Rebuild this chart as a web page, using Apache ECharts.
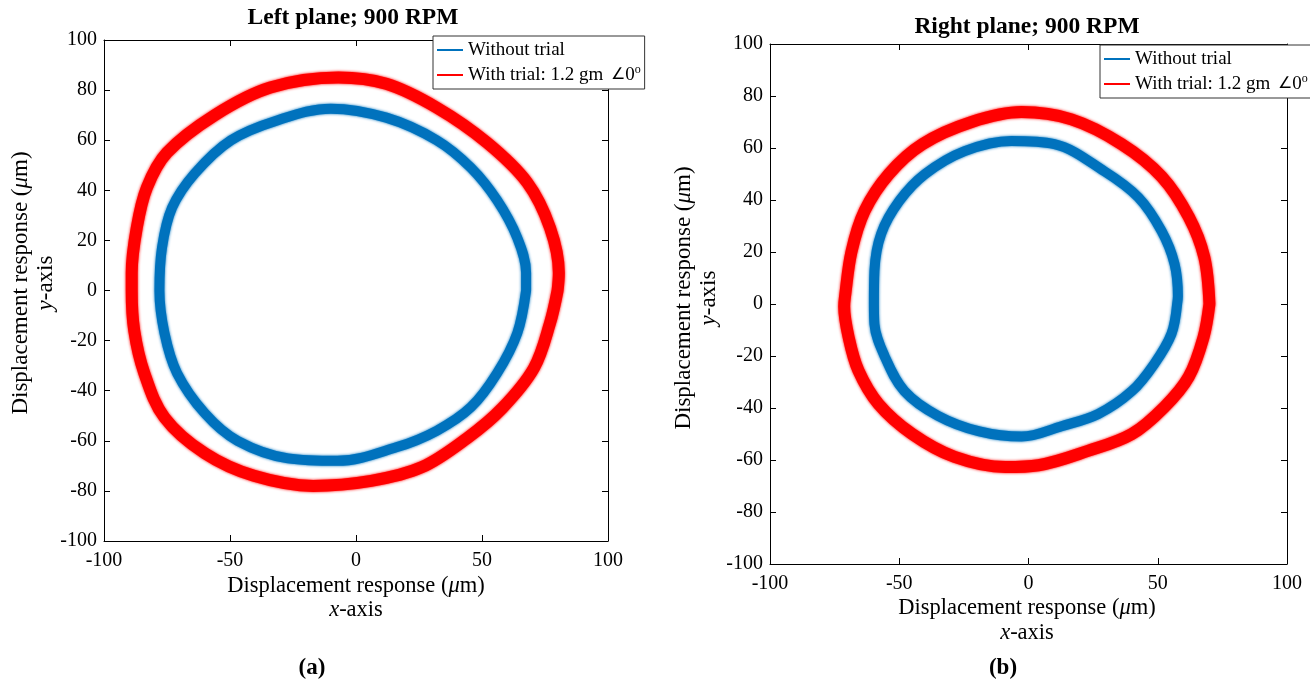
<!DOCTYPE html>
<html><head><meta charset="utf-8">
<script src="https://cdn.jsdelivr.net/npm/echarts@6/dist/echarts.min.js"></script>
<style>html,body{margin:0;padding:0;background:#fff}#c{width:1310px;height:683px}</style>
</head><body><div id="c"></div>
<script>
// ---- data (micrometres) ----
const xTickStep = 50;
const yTickStep = 20;
const axisMin = -100;
const axisMax = 100;
const seriesNames = ['Without trial', 'With trial'];
const plotTitles = ['Left plane; 900 RPM', 'Right plane; 900 RPM'];
const panelLabels = ['(a)', '(b)'];

const leftWithout = [[67.5,0],[67.5,7],[64,21],[56,36],[45.6,49],[32,60],[12,69],[-10,72.6],[-31,68],[-49.6,60],[-64,46.7],[-73,33],[-77,17],[-78,0],[-76,-17],[-71,-33],[-60,-49],[-47,-60],[-27,-67],[-7.5,-68],[16,-62.6],[32,-56],[45.6,-46.6],[56,-33],[64,-17],[67.5,0]];
const leftWith = [[80,0],[80.5,7],[77,25],[68,43],[52,59],[32,73],[12,82.5],[-7,85],[-34,81],[-56,70],[-75,55],[-83,41],[-87,25],[-89,7],[-89,0],[-88,-16],[-84,-33],[-76,-50.7],[-60,-65],[-40.5,-74],[-17,-78],[6,-76],[26,-70.6],[44,-59],[58,-47],[70.6,-31],[77,-13],[80,0]];
const rightWithout = [[57.5,0],[57.8,3],[56.5,15.4],[51.5,28],[42.5,41],[29.4,51],[10,61.5],[-6.6,62.7],[-24.7,58.8],[-40,50],[-50,39.6],[-57,27],[-59.6,12.7],[-59.8,0],[-59.6,-7.7],[-55.7,-20],[-48,-33.5],[-35,-43],[-19,-49],[-2.7,-51],[12.8,-47],[27,-42.3],[40,-33.5],[48.7,-23],[55.3,-11.5],[57.5,0]];
const rightWith = [[70,0],[68,18],[62,33.5],[51.5,49],[36,61.5],[16.6,71],[-2.7,73.8],[-22,70],[-41,61.5],[-54,50],[-63.4,35.8],[-68.5,20],[-71,2.7],[-71.3,-1],[-69.6,-12.7],[-65.8,-25.6],[-58,-38.5],[-45,-50],[-28.6,-58.8],[-9,-62.7],[3.9,-62],[23,-56.5],[40,-50],[52.6,-39.6],[62,-28],[67.7,-12.8],[70,0]];

// ---- chart ----
const FONT = '"Liberation Serif","Times New Roman",serif';
const BLUE = '#0072BD', RED = '#FF0000';
const grids = [
  {left:104, top:40, width:504, height:501},
  {left:770, top:44, width:517, height:520}
];

function xAx(gi, pos, labels){
  return {type:'value', gridIndex:gi, position:pos, min:axisMin, max:axisMax, interval:xTickStep,
    axisLine:{show:true, onZero:false, lineStyle:{color:'#000', width:1}},
    axisTick:{show:true, inside:true, length:6, lineStyle:{color:'#000'}},
    axisLabel:{show:labels, margin:10, color:'#000', fontFamily:FONT, fontSize:20},
    splitLine:{show:false}};
}
function yAx(gi, pos, labels){
  return {type:'value', gridIndex:gi, position:pos, min:axisMin, max:axisMax, interval:yTickStep,
    axisLine:{show:true, onZero:false, lineStyle:{color:'#000', width:1}},
    axisTick:{show:true, inside:true, length:6, lineStyle:{color:'#000'}},
    axisLabel:{show:labels, margin:7, color:'#000', fontFamily:FONT, fontSize:20},
    splitLine:{show:false}};
}
function ring(name, data, xi, yi, color, w){
  return {name:name, type:'line', data:data, xAxisIndex:xi, yAxisIndex:yi, symbol:'none', showSymbol:false,
    smooth:0.35, smoothMonotone:'none', clip:true, color:color,
    lineStyle:{color:color, width:w, join:'round', cap:'round', shadowColor:color, shadowBlur:3},
    emphasis:{disabled:true}, animation:false};
}
function legendAt(l, t){
  return {left:l, top:t, orient:'vertical', data:seriesNames, icon:'rect', itemWidth:26, itemHeight:2, itemGap:3,
    padding:[3,4,3,4], backgroundColor:'#fff', borderColor:'#333', borderWidth:1, borderRadius:0,
    selectedMode:false,
    formatter: function(n){ return n === 'With trial' ? 'With trial: 1.2 gm {ang|\u2220}0{sup|o}' : n; },
    textStyle:{fontFamily:FONT, fontSize:19, color:'#000', lineHeight:22,
      rich:{
        ang:{fontFamily:FONT, fontSize:16, lineHeight:22, color:'#000', padding:[0,0,0,3]},
        sup:{fontFamily:FONT, fontSize:12, verticalAlign:'top', lineHeight:22, padding:[0,0,8,0], color:'#000'}}}};
}
function txt(x, y, text, rot, size){
  return {type:'text', x:x, y:y, rotation:rot||0, silent:true,
    style:{text:text, fontFamily:FONT, fontSize:size, fill:'#000', textAlign:'center', textVerticalAlign:'middle',
      rich:{i:{fontFamily:FONT, fontSize:size, fontStyle:'italic', fill:'#000'}}}};
}
function bold(x, y, text, size){
  return {type:'text', x:x, y:y, silent:true,
    style:{text:text, fontFamily:FONT, fontSize:size, fontWeight:'bold', fill:'#000', textAlign:'center', textVerticalAlign:'middle'}};
}

const option = {
  backgroundColor:'#fff',
  animation:false,
  grid: grids,
  xAxis: [xAx(0,'bottom',true), xAx(0,'top',false), xAx(1,'bottom',true), xAx(1,'top',false)],
  yAxis: [yAx(0,'left',true), yAx(0,'right',false), yAx(1,'left',true), yAx(1,'right',false)],
  legend: [legendAt(433,36), legendAt(1100,45)],
  series: [
    ring(seriesNames[0], leftWithout, 0, 0, BLUE, 10),
    ring(seriesNames[1], leftWith, 0, 0, RED, 12),
    ring(seriesNames[0], rightWithout, 2, 2, BLUE, 10),
    ring(seriesNames[1], rightWith, 2, 2, RED, 12)
  ],
  graphic: [
    bold(353, 18, plotTitles[0], 23.5),
    bold(1027, 27, plotTitles[1], 23.5),
    txt(356, 586, 'Displacement response ({i|\u03bc}m)', 0, 22.5),
    txt(356, 610, '{i|x}-axis', 0, 22.5),
    txt(1027, 608, 'Displacement response ({i|\u03bc}m)', 0, 22.5),
    txt(1027, 633, '{i|x}-axis', 0, 22.5),
    txt(21, 283, 'Displacement response ({i|\u03bc}m)', Math.PI/2, 23),
    txt(46, 283, '{i|y}-axis', Math.PI/2, 23),
    txt(684, 298, 'Displacement response ({i|\u03bc}m)', Math.PI/2, 23),
    txt(709, 298, '{i|y}-axis', Math.PI/2, 23),
    bold(312, 668, panelLabels[0], 23),
    bold(1003, 668, panelLabels[1], 23)
  ]
};
const chart = echarts.init(document.getElementById('c'), null, {renderer:'canvas'});
chart.setOption(option);
</script>
</body></html>
